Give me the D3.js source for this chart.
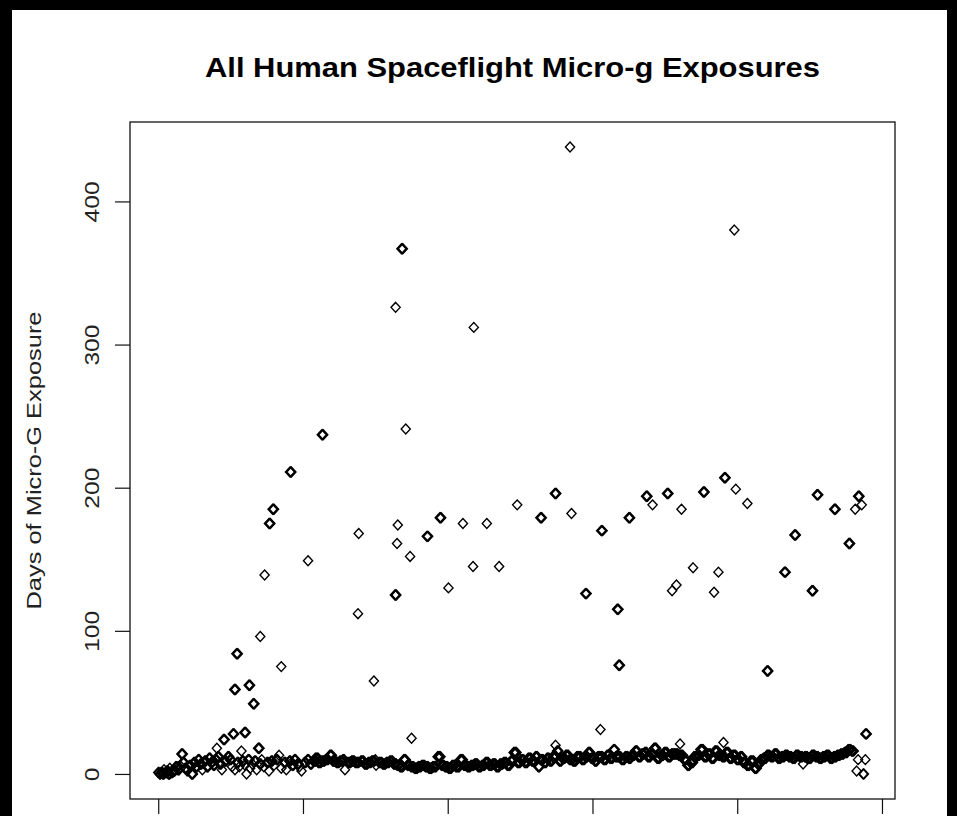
<!DOCTYPE html>
<html>
<head>
<meta charset="utf-8">
<script src="https://cdn.jsdelivr.net/npm/d3@7"></script>
<style>
    html, body { margin: 0; padding: 0; background: #000; }
    svg { display: block; }
</style>
</head>
<body>
<svg id="chart" width="957" height="816"></svg>
<script>
// [person-flight index of first crew member, days of micro-g, crew members sharing it]
const longMissions = [
    [569, 438, 1], [796, 380, 1], [336, 367, 3], [328, 326, 1], [436, 312, 1],
    [342, 241, 1], [226, 237, 3], [182, 211, 3], [158, 185, 3], [153, 175, 3],
    [496, 188, 1], [389, 179, 3], [331, 174, 1], [421, 175, 1], [454, 175, 1],
    [277, 168, 1], [330, 161, 1], [371, 166, 3], [348, 152, 1], [207, 149, 1],
    [147, 139, 1], [435, 145, 1], [471, 145, 1], [401, 130, 1], [327, 125, 3],
    [276, 112, 1], [141, 96, 1], [108, 84, 3], [170, 75, 1], [298, 65, 1],
    [105, 59, 3], [125, 62, 3], [131, 49, 3], [548, 196, 3], [528, 179, 3],
    [571, 182, 1], [612, 170, 3], [650, 179, 3], [674, 194, 3], [683, 188, 1],
    [703, 196, 3], [723, 185, 1], [753, 197, 3], [782, 207, 3], [798, 199, 1],
    [814, 189, 1], [910, 195, 3], [934, 185, 3], [967, 194, 3], [963, 185, 1],
    [972, 188, 1], [954, 161, 3], [879, 167, 3], [865, 141, 3], [903, 128, 3],
    [739, 144, 1], [774, 141, 1], [768, 127, 1], [710, 128, 1], [716, 132, 1],
    [590, 126, 3], [634, 115, 3], [636, 76, 3], [841, 72, 3], [350, 25, 1],
    [119, 29, 3], [103, 28, 3], [90, 24, 3], [81, 18, 1], [115, 16, 1],
    [138, 18, 3], [611, 31, 1], [977, 28, 3], [549, 20, 1], [721, 21, 1],
    [781, 22, 1], [629, 17, 3]
];

const shortMissions = [
    [0, 1, 2], [2, 0, 2], [4, 1, 3], [6, 0, 3], [8, 3, 1], [10, 1, 3], [12, 2, 3], [14, 0, 3],
    [16, 4, 1], [18, 1, 3], [21, 2, 3], [24, 5, 3], [27, 3, 3], [30, 6, 1], [32, 14, 3], [34, 8, 3],
    [37, 4, 3], [40, 2, 1], [43, 6, 3], [46, 0, 3], [49, 8, 3], [52, 5, 3], [55, 10, 3], [58, 7, 3],
    [61, 3, 1], [64, 9, 3], [67, 5, 3], [70, 11, 3], [73, 8, 3], [76, 6, 3], [79, 10, 3], [82, 12, 3],
    [85, 7, 3], [88, 3, 1], [92, 9, 3], [96, 12, 3], [99, 10, 3], [102, 5, 1], [106, 3, 1], [109, 8, 3],
    [112, 5, 1], [116, 9, 3], [120, 6, 1], [122, 0, 1], [124, 10, 3], [127, 4, 1], [130, 7, 1], [133, 9, 3],
    [136, 3, 1], [140, 7, 3], [143, 10, 1], [146, 5, 1], [150, 8, 3], [153, 2, 1], [156, 9, 3], [160, 6, 1],
    [163, 10, 3], [167, 13, 1], [170, 4, 1], [174, 8, 3], [177, 3, 1], [181, 9, 3], [185, 6, 3], [188, 10, 3],
    [192, 7, 3], [195, 5, 1], [198, 2, 1], [202, 8, 3], [206, 10, 3], [210, 7, 3], [214, 9, 5], [217, 11, 5],
    [221, 8, 5], [226, 9, 5], [231, 10, 5], [237, 13, 4], [241, 9, 5], [246, 8, 5], [251, 9, 5], [255, 10, 3],
    [258, 3, 1], [262, 8, 5], [267, 9, 5], [272, 8, 6], [280, 9, 5], [285, 7, 5], [290, 8, 5], [295, 9, 5],
    [300, 10, 1], [301, 6, 1], [305, 8, 5], [310, 7, 5], [315, 8, 5], [320, 9, 5], [325, 7, 5], [330, 6, 4],
    [334, 5, 5], [339, 10, 4], [344, 6, 5], [349, 5, 5], [354, 4, 5], [359, 5, 5], [364, 6, 5], [369, 5, 5],
    [374, 4, 5], [379, 5, 6], [386, 12, 5], [391, 6, 5], [396, 5, 5], [401, 4, 5], [406, 6, 5], [411, 5, 6],
    [417, 10, 5], [422, 6, 5], [427, 5, 5], [432, 6, 5], [437, 7, 5], [442, 5, 5], [447, 6, 5], [452, 8, 5],
    [457, 6, 5], [462, 7, 5], [467, 5, 5], [472, 7, 5], [477, 8, 5], [482, 6, 5], [487, 9, 4], [491, 15, 5],
    [496, 8, 5], [501, 10, 5], [506, 8, 5], [511, 11, 5], [516, 9, 5], [521, 12, 4], [525, 5, 3], [528, 10, 5],
    [533, 8, 4], [537, 11, 4], [541, 9, 4], [545, 12, 6], [551, 16, 3], [554, 9, 4], [558, 11, 5], [563, 13, 5],
    [568, 10, 5], [573, 9, 5], [578, 12, 7], [585, 10, 5], [590, 12, 4], [594, 15, 4], [598, 11, 5], [603, 9, 4],
    [607, 12, 8], [615, 10, 5], [620, 13, 4], [624, 11, 5], [632, 12, 8], [640, 10, 5], [645, 12, 5], [650, 11, 4],
    [654, 13, 5], [659, 16, 4], [663, 12, 5], [668, 14, 4], [672, 15, 4], [676, 12, 5], [681, 14, 4], [685, 18, 4],
    [689, 11, 5], [694, 13, 5], [699, 15, 5], [704, 12, 5], [709, 14, 5], [714, 14, 5], [719, 13, 7], [726, 10, 5],
    [731, 6, 4], [735, 8, 5], [740, 12, 5], [745, 13, 4], [749, 17, 5], [754, 12, 5], [759, 14, 5], [764, 11, 5],
    [769, 16, 5], [774, 13, 5], [779, 12, 5], [784, 15, 5], [789, 11, 5], [794, 13, 5], [799, 10, 5], [804, 12, 4],
    [808, 8, 5], [813, 6, 5], [818, 9, 6], [824, 4, 4], [828, 7, 4], [832, 10, 4], [836, 11, 5], [841, 13, 5],
    [846, 12, 5], [851, 14, 5], [856, 11, 5], [861, 12, 5], [866, 13, 5], [871, 12, 5], [876, 11, 5], [881, 13, 5],
    [886, 12, 5], [891, 7, 1], [893, 12, 5], [898, 11, 5], [903, 13, 5], [908, 12, 5], [913, 11, 5], [918, 12, 5],
    [923, 13, 5], [928, 11, 5], [933, 12, 5], [938, 13, 5], [943, 14, 5], [948, 15, 5], [953, 17, 5], [958, 16, 4],
    [965, 2, 1], [967, 10, 1], [974, 0, 2], [977, 10, 1]
];

const yTicks = [0, 100, 200, 300, 400];
const xTicks = [0, 200, 400, 600, 800, 1000];
const chartTitle = "All Human Spaceflight Micro-g Exposures";
const yTitle = "Days of Micro-G Exposure";

const buildVis = (svg_name) => {
    let chart = d3.select(svg_name);
    let font = "'Liberation Sans', Arial, sans-serif";

    // white page inside the black frame
    chart.append("rect")
        .attr("x", 12).attr("y", 10)
        .attr("width", 935).attr("height", 806)
        .attr("fill", "#fff");

    let box = {left: 130, right: 895, top: 122, bottom: 799};

    let x = d3.scaleLinear().domain([-39, 1018]).range([box.left, box.right]);
    let y = d3.scaleLinear().domain([-17.5, 455.5]).range([box.bottom, box.top]);

    // one point per crew member, on consecutive indices
    let points = [];
    longMissions.concat(shortMissions).forEach((m) => {
        for (let k = 0; k < m[2]; k++) {
            points.push({idx: m[0] + k, days: m[1]});
        }
    });

    let diamond = {
        draw: (ctx, size) => {
            let r = Math.sqrt(size) / 2;
            ctx.moveTo(0, -r * 1.08);
            ctx.lineTo(r, 0);
            ctx.lineTo(0, r * 1.08);
            ctx.lineTo(-r, 0);
            ctx.closePath();
        }
    };

    chart.append("g")
        .selectAll("path")
        .data(points)
        .enter().append("path")
            .attr("transform", (d) => "translate(" + x(d.idx) + "," + y(d.days) + ")")
            .attr("d", d3.symbol().type(diamond).size(84))
            .attr("fill", "none")
            .attr("stroke", "#000")
            .attr("stroke-width", 1.4);

    // plot box
    chart.append("rect")
        .attr("x", box.left).attr("y", box.top)
        .attr("width", box.right - box.left).attr("height", box.bottom - box.top)
        .attr("fill", "none")
        .attr("stroke", "#111")
        .attr("stroke-width", 1.3);

    let y_axis = d3.axisLeft(y).tickValues(yTicks).tickSize(15).tickSizeOuter(0);
    let yg = chart.append("g")
        .attr("transform", "translate(" + box.left + ",0)")
        .call(y_axis);
    yg.select(".domain").remove();
    yg.selectAll(".tick line").attr("stroke", "#111").attr("stroke-width", 1.2);
    yg.selectAll(".tick text")
        .attr("x", null).attr("dy", null).attr("y", null)
        .attr("transform", "translate(-31,0) rotate(-90) scale(1.26,1)")
        .style("text-anchor", "middle")
        .style("font-family", font)
        .style("font-size", "19.5px")
        .attr("fill", "#222");

    let x_axis = d3.axisBottom(x).tickValues(xTicks).tickSize(15).tickSizeOuter(0);
    let xg = chart.append("g")
        .attr("transform", "translate(0," + box.bottom + ")")
        .call(x_axis);
    xg.select(".domain").remove();
    xg.selectAll(".tick text").remove();
    xg.selectAll(".tick line").attr("stroke", "#111").attr("stroke-width", 1.2);

    chart.append("text")
        .attr("x", (box.left + box.right) / 2)
        .attr("y", 77)
        .attr("text-anchor", "middle")
        .attr("textLength", 615)
        .attr("lengthAdjust", "spacingAndGlyphs")
        .style("font-family", font)
        .style("font-weight", "bold")
        .style("font-size", "28px")
        .attr("fill", "#000")
        .text(chartTitle);

    chart.append("text")
        .attr("transform", "translate(41," + (box.top + box.bottom) / 2 + ") rotate(-90)")
        .attr("text-anchor", "middle")
        .attr("textLength", 298)
        .attr("lengthAdjust", "spacingAndGlyphs")
        .style("font-family", font)
        .style("font-size", "21px")
        .attr("fill", "#222")
        .text(yTitle);
}

buildVis("#chart");
</script>
</body>
</html>
